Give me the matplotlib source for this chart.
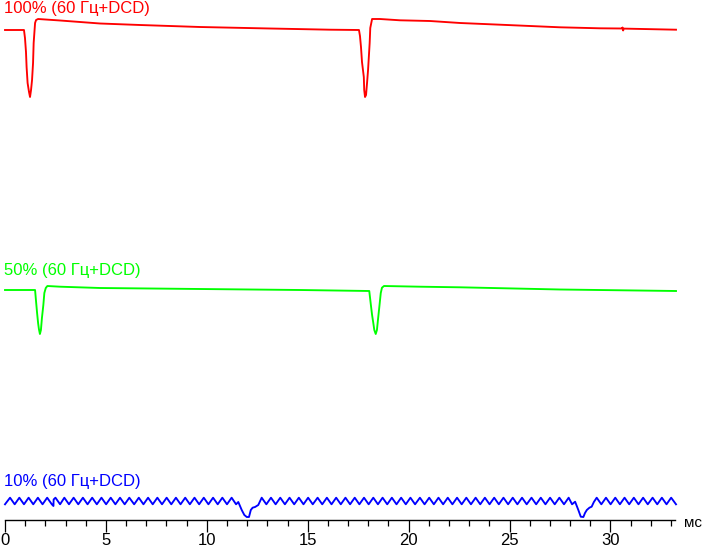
import matplotlib
matplotlib.use("Agg")
import matplotlib.pyplot as plt
from matplotlib.ticker import MultipleLocator

plt.rcParams['font.family'] = ['Liberation Sans', 'DejaVu Sans']

# ---------------- data (time in ms, brightness in arbitrary units) ----------------
red_label = "100% (60 Гц+DCD)"
green_label = "50% (60 Гц+DCD)"
blue_label = "10% (60 Гц+DCD)"
x_unit = "мс"
x_ticks = [0, 5, 10, 15, 20, 25, 30]

red_t = [0.00, 0.94, 0.99, 1.04, 1.07, 1.12, 1.19, 1.24, 1.29, 1.34, 1.39, 1.42, 1.49, 1.54,
         1.64, 2.73, 4.71, 6.69, 9.66, 13.13, 16.11, 17.54, 17.59, 17.64, 17.69, 17.78, 17.80,
         17.84, 17.89, 17.94, 17.99, 18.07, 18.10, 18.14, 18.19, 18.58, 19.57, 21.06, 22.55,
         24.53, 26.02, 27.50, 29.48, 30.58, 30.60, 30.63, 30.66, 33.25]
red_v = [67, 67, 59, 45, 30, 14, 5, 0, 7, 17, 34, 54, 74, 77,
         78, 76.5, 73.5, 72, 70, 68.5, 67.3, 67, 61, 50, 35, 20, 7,
         0, 2, 14, 27, 54, 69, 73, 78, 78, 76.7, 76, 74,
         72.3, 71, 69.7, 68.7, 68.5, 69.5, 66.5, 68.4, 67.3]

green_t = [0.00, 1.49, 1.54, 1.59, 1.64, 1.68, 1.73, 1.78, 1.83, 1.90, 1.95, 2.02, 2.10,
           2.73, 4.71, 7.19, 9.66, 14.62, 18.05, 18.14, 18.19, 18.25, 18.30, 18.37, 18.43,
           18.48, 18.55, 18.62, 18.68, 18.78, 20.56, 22.55, 27.50, 33.25]
green_v = [44, 44, 32.3, 21, 11, 5, 0, 4, 16, 29, 41, 46, 48,
           47.3, 46, 45.5, 45, 44, 43, 27.3, 19, 11, 4, 0, 4,
           14, 27.3, 41, 46.3, 48, 47.3, 46.7, 44.5, 43]

# blue: flicker ripple peaks / troughs plus the two frame dips
blue_peak_t = [0.25, 0.71, 1.17, 1.63, 2.09, 2.50, 2.94, 3.40, 3.86, 4.32, 4.78, 5.24, 5.70,
               6.16, 6.63, 7.09, 7.55, 8.01, 8.47, 8.93, 9.39, 9.85, 10.31, 10.77, 11.23,
               12.72, 13.18, 13.64, 14.10, 14.56, 15.02, 15.49, 15.95, 16.41, 16.87, 17.33,
               17.79, 18.25, 18.71, 19.17, 19.63, 20.09, 20.56, 21.02, 21.48, 21.94, 22.40,
               22.86, 23.32, 23.78, 24.24, 24.70, 25.16, 25.62, 26.09, 26.55, 27.01, 27.47,
               27.93, 29.32, 29.78, 30.24, 30.70, 31.16, 31.62, 32.09, 32.55, 33.01]
blue_trough_t = [0.00, 0.48, 0.94, 1.40, 1.86, 2.32, 2.73, 3.17, 3.63, 4.09, 4.55, 5.01, 5.47,
                 5.93, 6.40, 6.86, 7.32, 7.78, 8.24, 8.70, 9.16, 9.62, 10.08, 10.54, 11.00,
                 11.45, 12.95, 13.41, 13.87, 14.33, 14.79, 15.25, 15.72, 16.18, 16.64, 17.10,
                 17.56, 18.02, 18.48, 18.94, 19.40, 19.86, 20.32, 20.79, 21.25, 21.71, 22.17,
                 22.63, 23.09, 23.55, 24.01, 24.47, 24.93, 25.39, 25.85, 26.32, 26.78, 27.24,
                 27.70, 28.10, 29.55, 30.01, 30.47, 30.93, 31.39, 31.85, 32.32, 32.78, 33.25]
blue_peak_v = 19.3
blue_trough_v = 12.7
blue_extra_t = [2.40, 2.41, 11.56, 11.73, 11.86, 11.98, 12.09, 12.18, 12.27, 12.39, 12.55, 12.64,
                28.25, 28.41, 28.53, 28.66, 28.74, 28.83, 28.96, 29.07, 29.18]
blue_extra_v = [11.0, 17.5, 15, 7, 2, 0, 0, 7, 9.3, 10, 12, 16,
                15.3, 7, 0.3, 0, 4, 7, 9.3, 10.3, 15]

# ---------------- figure ----------------
W, H = 703, 548
fig = plt.figure(figsize=(W / 100, H / 100), dpi=100)
axis_row = 520
ax = fig.add_axes([5 / W, (H - axis_row) / H, 670 / W, axis_row / H])
ax.set_xlim(0, 33.2)
ax.set_ylim(0, axis_row)

# baselines (pixel rows of the zero level of each trace)
red_zero = axis_row - 97
green_zero = axis_row - 334
blue_zero = axis_row - 517

lw = 1.35
ax.plot(red_t, [red_zero + v for v in red_v], color='#ff0000', lw=lw, clip_on=False)
ax.plot(green_t, [green_zero + v for v in green_v], color='#00ff00', lw=lw, clip_on=False)

pts = [(t, blue_peak_v) for t in blue_peak_t] + [(t, blue_trough_v) for t in blue_trough_t] \
    + list(zip(blue_extra_t, blue_extra_v))
pts.sort(key=lambda p: p[0])
ax.plot([p[0] for p in pts], [blue_zero + p[1] for p in pts], color='#0000ff', lw=lw,
        clip_on=False)

for s in ('left', 'right', 'top'):
    ax.spines[s].set_visible(False)
ax.spines['bottom'].set_linewidth(1.0)
ax.set_yticks([])
ax.set_xticks(x_ticks)
ax.xaxis.set_minor_locator(MultipleLocator(1))
ax.tick_params(axis='x', which='major', direction='out', length=8.6, width=0.9,
               labelsize=12, pad=0.5)
ax.tick_params(axis='x', which='minor', direction='out', length=4.3, width=0.9)
ax.patch.set_visible(False)

fig.text(4 / W, 1 - 13 / H, red_label, color='#ff0000', fontsize=12, va='baseline', ha='left')
fig.text(4 / W, 1 - 275 / H, green_label, color='#00ff00', fontsize=12, va='baseline', ha='left')
fig.text(4 / W, 1 - 486 / H, blue_label, color='#0000ff', fontsize=12, va='baseline', ha='left')
fig.text(684 / W, 1 - 527 / H, x_unit, color='black', fontsize=11, va='baseline', ha='left')

fig.savefig('out.png', dpi=100)
